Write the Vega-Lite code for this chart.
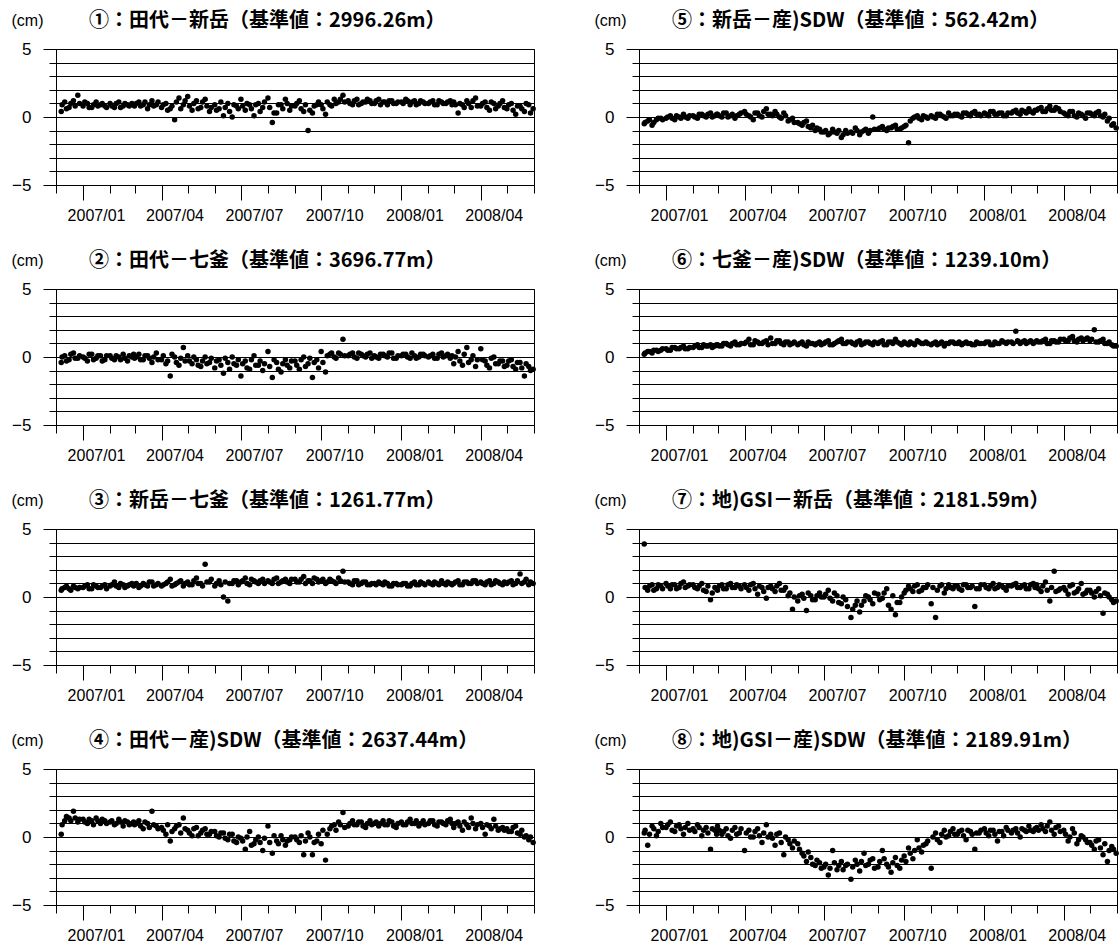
{
"$schema":"https://vega.github.io/schema/vega-lite/v6.json",
"background":"white",
"padding":{"left":10,"top":10,"right":0,"bottom":0},
"columns":2,
"spacing":{"column":105,"row":104},
"bounds":"flush",
"config":{
"font":"Liberation Sans",
"view":{"stroke":"black","strokeWidth":1},
"axis":{"domainColor":"black","tickColor":"black","labelColor":"black","labelFont":"Liberation Sans","labelFontSize":16,"titleColor":"black","domainWidth":1,"tickWidth":1},
"axisX":{"grid":false,"labelOffset":13,"labelPadding":7,"labelOverlap":false,"labelFlush":false,"labelBound":false,"labelAngle":0},
"axisY":{"grid":true,"gridColor":"black","gridOpacity":1,"gridWidth":1,"labelPadding":12,"labelFontSize":17,"titleAngle":0,"titleAlign":"left","titleBaseline":"middle","titleX":-45,"titleY":-29,"titleFontSize":16,"titleFontWeight":"normal","titleFont":"Liberation Sans"},
"title":{"font":"Noto Sans CJK JP","fontSize":20,"fontWeight":"bold","color":"black","anchor":"start","frame":"group","dx":33,"dy":23,"offset":4},
"circle":{"color":"black","size":30,"opacity":1}
},
"datasets":{
"a":[{"t":"2006-12-07","y":0.4},{"t":"2006-12-11","y":1.1},{"t":"2006-12-16","y":0.7},{"t":"2006-12-21","y":1.2},{"t":"2006-12-26","y":1.6},
{"t":"2007-01-01","y":0.8},{"t":"2007-01-06","y":1.0},{"t":"2007-01-11","y":0.7},{"t":"2007-01-16","y":1.1},{"t":"2007-01-21","y":0.9},{"t":"2007-01-26","y":0.8},
{"t":"2007-02-01","y":1.0},{"t":"2007-02-06","y":0.7},{"t":"2007-02-11","y":1.1},{"t":"2007-02-16","y":0.8},{"t":"2007-02-21","y":0.9},{"t":"2007-02-26","y":1.0},
{"t":"2007-03-01","y":0.8},{"t":"2007-03-06","y":1.1},{"t":"2007-03-11","y":0.9},{"t":"2007-03-16","y":0.6},{"t":"2007-03-21","y":1.2},{"t":"2007-03-26","y":0.9},
{"t":"2007-04-01","y":0.7},{"t":"2007-04-06","y":1.0},{"t":"2007-04-11","y":0.6},{"t":"2007-04-16","y":-0.2},{"t":"2007-04-21","y":1.4},{"t":"2007-04-26","y":0.9},
{"t":"2007-05-01","y":1.5},{"t":"2007-05-06","y":0.5},{"t":"2007-05-11","y":1.2},{"t":"2007-05-16","y":0.7},{"t":"2007-05-21","y":1.3},{"t":"2007-05-26","y":0.4},
{"t":"2007-06-01","y":0.9},{"t":"2007-06-06","y":0.6},{"t":"2007-06-11","y":0.1},{"t":"2007-06-16","y":1.0},{"t":"2007-06-21","y":0.0},{"t":"2007-06-26","y":0.8},
{"t":"2007-07-01","y":1.3},{"t":"2007-07-06","y":0.5},{"t":"2007-07-11","y":0.9},{"t":"2007-07-16","y":0.1},{"t":"2007-07-21","y":1.0},{"t":"2007-07-26","y":0.7},
{"t":"2007-08-01","y":1.4},{"t":"2007-08-06","y":-0.4},{"t":"2007-08-11","y":0.3},{"t":"2007-08-16","y":0.9},{"t":"2007-08-21","y":1.3},{"t":"2007-08-26","y":0.5},
{"t":"2007-09-01","y":0.8},{"t":"2007-09-06","y":1.2},{"t":"2007-09-11","y":0.4},{"t":"2007-09-16","y":-1.0},{"t":"2007-09-21","y":0.3},{"t":"2007-09-26","y":0.9},
{"t":"2007-10-01","y":0.9},{"t":"2007-10-06","y":0.2},{"t":"2007-10-11","y":0.9},{"t":"2007-10-16","y":1.3},{"t":"2007-10-21","y":1.1},{"t":"2007-10-26","y":1.6},
{"t":"2007-11-01","y":1.2},{"t":"2007-11-06","y":0.9},{"t":"2007-11-11","y":1.3},{"t":"2007-11-16","y":1.0},{"t":"2007-11-21","y":1.1},{"t":"2007-11-26","y":1.2},
{"t":"2007-12-01","y":1.0},{"t":"2007-12-06","y":1.3},{"t":"2007-12-11","y":1.1},{"t":"2007-12-16","y":0.9},{"t":"2007-12-21","y":1.2},{"t":"2007-12-26","y":1.0},
{"t":"2008-01-01","y":1.1},{"t":"2008-01-06","y":1.3},{"t":"2008-01-11","y":0.9},{"t":"2008-01-16","y":1.2},{"t":"2008-01-21","y":1.0},{"t":"2008-01-26","y":1.1},
{"t":"2008-02-01","y":1.0},{"t":"2008-02-06","y":1.2},{"t":"2008-02-11","y":0.9},{"t":"2008-02-16","y":1.1},{"t":"2008-02-21","y":1.0},{"t":"2008-02-26","y":1.2},
{"t":"2008-03-01","y":1.1},{"t":"2008-03-06","y":0.3},{"t":"2008-03-11","y":0.9},{"t":"2008-03-16","y":1.2},{"t":"2008-03-21","y":0.7},{"t":"2008-03-26","y":1.4},
{"t":"2008-04-01","y":0.8},{"t":"2008-04-06","y":1.1},{"t":"2008-04-11","y":0.5},{"t":"2008-04-16","y":1.0},{"t":"2008-04-21","y":0.8},{"t":"2008-04-26","y":1.2},
{"t":"2008-05-01","y":0.6},{"t":"2008-05-06","y":1.0},{"t":"2008-05-11","y":0.2},{"t":"2008-05-16","y":0.8},{"t":"2008-05-21","y":0.4},{"t":"2008-05-26","y":0.9},{"t":"2008-05-31","y":0.6},
{"t":"2006-12-08","y":0.9},{"t":"2006-12-13","y":0.6},{"t":"2006-12-18","y":1.0},{"t":"2006-12-23","y":0.8},{"t":"2006-12-28","y":1.0},
{"t":"2007-01-03","y":1.1},{"t":"2007-01-08","y":0.7},{"t":"2007-01-13","y":0.9},{"t":"2007-01-18","y":0.8},{"t":"2007-01-23","y":1.0},{"t":"2007-01-28","y":0.7},
{"t":"2007-02-03","y":0.8},{"t":"2007-02-08","y":1.0},{"t":"2007-02-13","y":0.7},{"t":"2007-02-18","y":1.0},{"t":"2007-02-23","y":0.8},{"t":"2007-02-28","y":0.9},
{"t":"2007-03-03","y":1.0},{"t":"2007-03-08","y":0.8},{"t":"2007-03-13","y":1.1},{"t":"2007-03-18","y":0.9},{"t":"2007-03-23","y":0.8},{"t":"2007-03-28","y":1.1},
{"t":"2007-04-03","y":0.9},{"t":"2007-04-08","y":0.5},{"t":"2007-04-13","y":0.8},{"t":"2007-04-18","y":1.1},{"t":"2007-04-23","y":0.6},{"t":"2007-04-28","y":1.2},
{"t":"2007-05-03","y":0.8},{"t":"2007-05-08","y":1.0},{"t":"2007-05-13","y":0.6},{"t":"2007-05-18","y":1.1},{"t":"2007-05-23","y":0.8},{"t":"2007-05-28","y":0.7},
{"t":"2007-06-03","y":0.5},{"t":"2007-06-08","y":1.1},{"t":"2007-06-13","y":0.7},{"t":"2007-06-18","y":0.4},{"t":"2007-06-23","y":0.9},{"t":"2007-06-28","y":0.6},
{"t":"2007-07-03","y":0.8},{"t":"2007-07-08","y":1.0},{"t":"2007-07-13","y":0.6},{"t":"2007-07-18","y":0.9},{"t":"2007-07-23","y":0.4},{"t":"2007-07-28","y":1.1},
{"t":"2007-08-03","y":0.7},{"t":"2007-08-08","y":0.3},{"t":"2007-08-13","y":0.9},{"t":"2007-08-18","y":0.6},{"t":"2007-08-23","y":1.0},{"t":"2007-08-28","y":0.8},
{"t":"2007-09-03","y":1.0},{"t":"2007-09-08","y":0.6},{"t":"2007-09-13","y":0.9},{"t":"2007-09-18","y":0.5},{"t":"2007-09-23","y":0.8},{"t":"2007-09-28","y":1.1},
{"t":"2007-10-03","y":0.6},{"t":"2007-10-08","y":1.1},{"t":"2007-10-13","y":0.8},{"t":"2007-10-18","y":1.0},{"t":"2007-10-23","y":1.3},{"t":"2007-10-28","y":1.1},
{"t":"2007-11-03","y":1.0},{"t":"2007-11-08","y":1.2},{"t":"2007-11-13","y":0.9},{"t":"2007-11-18","y":1.1},{"t":"2007-11-23","y":1.3},{"t":"2007-11-28","y":1.0},
{"t":"2007-12-03","y":1.2},{"t":"2007-12-08","y":0.9},{"t":"2007-12-13","y":1.1},{"t":"2007-12-18","y":1.2},{"t":"2007-12-23","y":1.0},{"t":"2007-12-28","y":1.1},
{"t":"2008-01-03","y":1.0},{"t":"2008-01-08","y":1.2},{"t":"2008-01-13","y":1.1},{"t":"2008-01-18","y":0.9},{"t":"2008-01-23","y":1.2},{"t":"2008-01-28","y":1.0},
{"t":"2008-02-03","y":1.1},{"t":"2008-02-08","y":0.9},{"t":"2008-02-13","y":1.2},{"t":"2008-02-18","y":1.0},{"t":"2008-02-23","y":1.1},{"t":"2008-02-28","y":0.9},
{"t":"2008-03-03","y":0.9},{"t":"2008-03-08","y":1.0},{"t":"2008-03-13","y":0.7},{"t":"2008-03-18","y":1.0},{"t":"2008-03-23","y":1.2},{"t":"2008-03-28","y":0.8},
{"t":"2008-04-03","y":1.0},{"t":"2008-04-08","y":0.7},{"t":"2008-04-13","y":1.1},{"t":"2008-04-18","y":0.6},{"t":"2008-04-23","y":1.0},{"t":"2008-04-28","y":0.7},
{"t":"2008-05-03","y":0.9},{"t":"2008-05-08","y":0.5},{"t":"2008-05-13","y":0.8},{"t":"2008-05-18","y":0.6},{"t":"2008-05-23","y":1.0},{"t":"2008-05-28","y":0.3}],
"b":[{"t":"2006-12-07","y":-0.4},{"t":"2006-12-11","y":0.1},{"t":"2006-12-16","y":-0.2},{"t":"2006-12-21","y":0.3},{"t":"2006-12-26","y":-0.1},
{"t":"2007-01-01","y":0.0},{"t":"2007-01-06","y":-0.3},{"t":"2007-01-11","y":0.2},{"t":"2007-01-16","y":-0.1},{"t":"2007-01-21","y":0.1},{"t":"2007-01-26","y":-0.2},
{"t":"2007-02-01","y":0.1},{"t":"2007-02-06","y":-0.2},{"t":"2007-02-11","y":0.0},{"t":"2007-02-16","y":0.2},{"t":"2007-02-21","y":-0.3},{"t":"2007-02-26","y":0.0},
{"t":"2007-03-01","y":-0.1},{"t":"2007-03-06","y":0.2},{"t":"2007-03-11","y":-0.2},{"t":"2007-03-16","y":0.1},{"t":"2007-03-21","y":-0.4},{"t":"2007-03-26","y":0.3},
{"t":"2007-04-01","y":-0.2},{"t":"2007-04-06","y":-0.5},{"t":"2007-04-11","y":-1.4},{"t":"2007-04-16","y":0.0},{"t":"2007-04-21","y":-0.6},{"t":"2007-04-26","y":0.7},
{"t":"2007-05-01","y":0.1},{"t":"2007-05-06","y":-0.5},{"t":"2007-05-11","y":-0.2},{"t":"2007-05-16","y":-0.7},{"t":"2007-05-21","y":0.0},{"t":"2007-05-26","y":-0.4},
{"t":"2007-06-01","y":-0.8},{"t":"2007-06-06","y":-0.2},{"t":"2007-06-11","y":-1.2},{"t":"2007-06-16","y":-0.4},{"t":"2007-06-21","y":0.0},{"t":"2007-06-26","y":-0.6},
{"t":"2007-07-01","y":-1.4},{"t":"2007-07-06","y":-0.3},{"t":"2007-07-11","y":-0.9},{"t":"2007-07-16","y":0.1},{"t":"2007-07-21","y":-0.6},{"t":"2007-07-26","y":-1.0},
{"t":"2007-08-01","y":0.4},{"t":"2007-08-06","y":-1.5},{"t":"2007-08-11","y":-0.4},{"t":"2007-08-16","y":-1.1},{"t":"2007-08-21","y":-0.2},{"t":"2007-08-26","y":-0.8},
{"t":"2007-09-01","y":-0.3},{"t":"2007-09-06","y":-0.9},{"t":"2007-09-11","y":0.0},{"t":"2007-09-16","y":-0.5},{"t":"2007-09-21","y":-1.5},{"t":"2007-09-26","y":-0.2},
{"t":"2007-10-01","y":0.4},{"t":"2007-10-06","y":-1.1},{"t":"2007-10-11","y":0.2},{"t":"2007-10-16","y":0.0},{"t":"2007-10-21","y":0.3},{"t":"2007-10-26","y":1.3},
{"t":"2007-11-01","y":0.1},{"t":"2007-11-06","y":0.3},{"t":"2007-11-11","y":-0.1},{"t":"2007-11-16","y":0.2},{"t":"2007-11-21","y":0.0},{"t":"2007-11-26","y":0.3},
{"t":"2007-12-01","y":0.1},{"t":"2007-12-06","y":-0.1},{"t":"2007-12-11","y":0.2},{"t":"2007-12-16","y":0.0},{"t":"2007-12-21","y":0.3},{"t":"2007-12-26","y":-0.1},
{"t":"2008-01-01","y":0.1},{"t":"2008-01-06","y":0.2},{"t":"2008-01-11","y":-0.1},{"t":"2008-01-16","y":0.1},{"t":"2008-01-21","y":0.0},{"t":"2008-01-26","y":0.2},
{"t":"2008-02-01","y":0.0},{"t":"2008-02-06","y":0.2},{"t":"2008-02-11","y":-0.1},{"t":"2008-02-16","y":0.3},{"t":"2008-02-21","y":0.1},{"t":"2008-02-26","y":-0.1},
{"t":"2008-03-01","y":-0.5},{"t":"2008-03-06","y":0.4},{"t":"2008-03-11","y":-0.6},{"t":"2008-03-16","y":0.7},{"t":"2008-03-21","y":-0.2},{"t":"2008-03-26","y":-0.7},
{"t":"2008-04-01","y":0.6},{"t":"2008-04-06","y":-0.3},{"t":"2008-04-11","y":-0.8},{"t":"2008-04-16","y":0.0},{"t":"2008-04-21","y":-0.5},{"t":"2008-04-26","y":-0.3},
{"t":"2008-05-01","y":-0.6},{"t":"2008-05-06","y":-0.2},{"t":"2008-05-11","y":-0.9},{"t":"2008-05-16","y":-0.4},{"t":"2008-05-21","y":-1.4},{"t":"2008-05-26","y":-0.7},{"t":"2008-05-31","y":-0.9},
{"t":"2006-12-08","y":0.0},{"t":"2006-12-13","y":-0.3},{"t":"2006-12-18","y":0.2},{"t":"2006-12-23","y":-0.1},{"t":"2006-12-28","y":0.1},
{"t":"2007-01-03","y":-0.1},{"t":"2007-01-08","y":0.2},{"t":"2007-01-13","y":-0.2},{"t":"2007-01-18","y":0.1},{"t":"2007-01-23","y":-0.3},{"t":"2007-01-28","y":0.1},
{"t":"2007-02-03","y":-0.1},{"t":"2007-02-08","y":0.1},{"t":"2007-02-13","y":-0.2},{"t":"2007-02-18","y":-0.1},{"t":"2007-02-23","y":0.1},{"t":"2007-02-28","y":0.2},
{"t":"2007-03-03","y":0.0},{"t":"2007-03-08","y":-0.2},{"t":"2007-03-13","y":0.1},{"t":"2007-03-18","y":-0.1},{"t":"2007-03-23","y":0.0},{"t":"2007-03-28","y":-0.2},
{"t":"2007-04-03","y":0.1},{"t":"2007-04-08","y":-0.3},{"t":"2007-04-13","y":0.2},{"t":"2007-04-18","y":-0.4},{"t":"2007-04-23","y":-0.1},{"t":"2007-04-28","y":-0.3},
{"t":"2007-05-03","y":-0.3},{"t":"2007-05-08","y":0.0},{"t":"2007-05-13","y":-0.6},{"t":"2007-05-18","y":-0.3},{"t":"2007-05-23","y":-0.5},{"t":"2007-05-28","y":-0.1},
{"t":"2007-06-03","y":-0.3},{"t":"2007-06-08","y":-0.6},{"t":"2007-06-13","y":-0.1},{"t":"2007-06-18","y":-0.9},{"t":"2007-06-23","y":-0.5},{"t":"2007-06-28","y":-0.2},
{"t":"2007-07-03","y":-0.5},{"t":"2007-07-08","y":-0.8},{"t":"2007-07-13","y":-0.2},{"t":"2007-07-18","y":-0.6},{"t":"2007-07-23","y":-0.3},{"t":"2007-07-28","y":-0.5},
{"t":"2007-08-03","y":-0.7},{"t":"2007-08-08","y":-0.2},{"t":"2007-08-13","y":-0.9},{"t":"2007-08-18","y":-0.5},{"t":"2007-08-23","y":-0.6},{"t":"2007-08-28","y":-0.3},
{"t":"2007-09-03","y":-0.6},{"t":"2007-09-08","y":-0.2},{"t":"2007-09-13","y":-0.7},{"t":"2007-09-18","y":-0.1},{"t":"2007-09-23","y":-0.4},{"t":"2007-09-28","y":-0.8},
{"t":"2007-10-03","y":-0.4},{"t":"2007-10-08","y":0.1},{"t":"2007-10-13","y":0.3},{"t":"2007-10-18","y":-0.1},{"t":"2007-10-23","y":0.2},{"t":"2007-10-28","y":0.1},
{"t":"2007-11-03","y":0.2},{"t":"2007-11-08","y":0.0},{"t":"2007-11-13","y":0.3},{"t":"2007-11-18","y":0.1},{"t":"2007-11-23","y":0.2},{"t":"2007-11-28","y":-0.1},
{"t":"2007-12-03","y":0.0},{"t":"2007-12-08","y":0.2},{"t":"2007-12-13","y":0.1},{"t":"2007-12-18","y":0.3},{"t":"2007-12-23","y":-0.1},{"t":"2007-12-28","y":0.1},
{"t":"2008-01-03","y":0.2},{"t":"2008-01-08","y":0.0},{"t":"2008-01-13","y":0.3},{"t":"2008-01-18","y":-0.1},{"t":"2008-01-23","y":0.2},{"t":"2008-01-28","y":0.1},
{"t":"2008-02-03","y":0.1},{"t":"2008-02-08","y":-0.1},{"t":"2008-02-13","y":0.2},{"t":"2008-02-18","y":0.0},{"t":"2008-02-23","y":0.2},{"t":"2008-02-28","y":0.1},
{"t":"2008-03-03","y":0.0},{"t":"2008-03-08","y":-0.3},{"t":"2008-03-13","y":0.2},{"t":"2008-03-18","y":-0.4},{"t":"2008-03-23","y":0.1},{"t":"2008-03-28","y":-0.2},
{"t":"2008-04-03","y":-0.2},{"t":"2008-04-08","y":-0.6},{"t":"2008-04-13","y":-0.1},{"t":"2008-04-18","y":-0.5},{"t":"2008-04-23","y":-0.3},{"t":"2008-04-28","y":-0.7},
{"t":"2008-05-03","y":-0.3},{"t":"2008-05-08","y":-0.7},{"t":"2008-05-13","y":-0.4},{"t":"2008-05-18","y":-0.8},{"t":"2008-05-23","y":-0.5},{"t":"2008-05-28","y":-1.0}],
"c":[{"t":"2006-12-07","y":0.5},{"t":"2006-12-11","y":0.7},{"t":"2006-12-16","y":0.6},{"t":"2006-12-21","y":0.8},{"t":"2006-12-26","y":0.6},
{"t":"2007-01-01","y":0.7},{"t":"2007-01-06","y":0.9},{"t":"2007-01-11","y":0.6},{"t":"2007-01-16","y":0.8},{"t":"2007-01-21","y":0.7},{"t":"2007-01-26","y":0.9},
{"t":"2007-02-01","y":0.8},{"t":"2007-02-06","y":1.1},{"t":"2007-02-11","y":0.7},{"t":"2007-02-16","y":0.9},{"t":"2007-02-21","y":0.8},{"t":"2007-02-26","y":1.0},
{"t":"2007-03-01","y":0.9},{"t":"2007-03-06","y":0.7},{"t":"2007-03-11","y":1.0},{"t":"2007-03-16","y":0.8},{"t":"2007-03-21","y":1.1},{"t":"2007-03-26","y":0.9},
{"t":"2007-04-01","y":0.8},{"t":"2007-04-06","y":1.0},{"t":"2007-04-11","y":1.3},{"t":"2007-04-16","y":0.9},{"t":"2007-04-21","y":1.1},{"t":"2007-04-26","y":0.8},
{"t":"2007-05-01","y":1.1},{"t":"2007-05-06","y":0.9},{"t":"2007-05-11","y":1.4},{"t":"2007-05-16","y":1.0},{"t":"2007-05-21","y":2.4},{"t":"2007-05-26","y":1.1},
{"t":"2007-06-01","y":0.8},{"t":"2007-06-06","y":1.2},{"t":"2007-06-11","y":0.0},{"t":"2007-06-16","y":-0.3},{"t":"2007-06-21","y":1.0},{"t":"2007-06-26","y":1.2},
{"t":"2007-07-01","y":1.1},{"t":"2007-07-06","y":1.4},{"t":"2007-07-11","y":0.9},{"t":"2007-07-16","y":1.2},{"t":"2007-07-21","y":1.0},{"t":"2007-07-26","y":1.3},
{"t":"2007-08-01","y":1.2},{"t":"2007-08-06","y":1.0},{"t":"2007-08-11","y":1.4},{"t":"2007-08-16","y":1.1},{"t":"2007-08-21","y":1.3},{"t":"2007-08-26","y":1.0},
{"t":"2007-09-01","y":1.3},{"t":"2007-09-06","y":1.1},{"t":"2007-09-11","y":1.5},{"t":"2007-09-16","y":1.2},{"t":"2007-09-21","y":1.0},{"t":"2007-09-26","y":1.3},
{"t":"2007-10-01","y":1.2},{"t":"2007-10-06","y":1.0},{"t":"2007-10-11","y":1.3},{"t":"2007-10-16","y":1.1},{"t":"2007-10-21","y":1.4},{"t":"2007-10-26","y":1.9},
{"t":"2007-11-01","y":1.1},{"t":"2007-11-06","y":0.9},{"t":"2007-11-11","y":1.2},{"t":"2007-11-16","y":1.0},{"t":"2007-11-21","y":1.1},{"t":"2007-11-26","y":0.9},
{"t":"2007-12-01","y":1.0},{"t":"2007-12-06","y":1.1},{"t":"2007-12-11","y":0.9},{"t":"2007-12-16","y":1.0},{"t":"2007-12-21","y":0.8},{"t":"2007-12-26","y":1.0},
{"t":"2008-01-01","y":0.9},{"t":"2008-01-06","y":1.0},{"t":"2008-01-11","y":0.8},{"t":"2008-01-16","y":1.1},{"t":"2008-01-21","y":0.9},{"t":"2008-01-26","y":1.0},
{"t":"2008-02-01","y":1.1},{"t":"2008-02-06","y":0.9},{"t":"2008-02-11","y":1.0},{"t":"2008-02-16","y":1.2},{"t":"2008-02-21","y":0.9},{"t":"2008-02-26","y":1.0},
{"t":"2008-03-01","y":1.0},{"t":"2008-03-06","y":1.2},{"t":"2008-03-11","y":0.9},{"t":"2008-03-16","y":1.1},{"t":"2008-03-21","y":1.0},{"t":"2008-03-26","y":1.2},
{"t":"2008-04-01","y":1.1},{"t":"2008-04-06","y":0.9},{"t":"2008-04-11","y":1.2},{"t":"2008-04-16","y":1.0},{"t":"2008-04-21","y":1.1},{"t":"2008-04-26","y":0.9},
{"t":"2008-05-01","y":1.0},{"t":"2008-05-06","y":1.2},{"t":"2008-05-11","y":1.0},{"t":"2008-05-16","y":1.7},{"t":"2008-05-21","y":1.1},{"t":"2008-05-26","y":0.9},{"t":"2008-05-31","y":1.0},
{"t":"2006-12-08","y":0.6},{"t":"2006-12-13","y":0.8},{"t":"2006-12-18","y":0.5},{"t":"2006-12-23","y":0.7},{"t":"2006-12-28","y":0.7},
{"t":"2007-01-03","y":0.8},{"t":"2007-01-08","y":0.6},{"t":"2007-01-13","y":0.9},{"t":"2007-01-18","y":0.7},{"t":"2007-01-23","y":0.8},{"t":"2007-01-28","y":0.6},
{"t":"2007-02-03","y":0.9},{"t":"2007-02-08","y":0.8},{"t":"2007-02-13","y":1.0},{"t":"2007-02-18","y":0.7},{"t":"2007-02-23","y":0.9},{"t":"2007-02-28","y":0.8},
{"t":"2007-03-03","y":1.0},{"t":"2007-03-08","y":0.8},{"t":"2007-03-13","y":0.9},{"t":"2007-03-18","y":1.1},{"t":"2007-03-23","y":0.8},{"t":"2007-03-28","y":1.0},
{"t":"2007-04-03","y":0.9},{"t":"2007-04-08","y":1.1},{"t":"2007-04-13","y":0.8},{"t":"2007-04-18","y":1.0},{"t":"2007-04-23","y":1.2},{"t":"2007-04-28","y":1.0},
{"t":"2007-05-03","y":0.9},{"t":"2007-05-08","y":1.2},{"t":"2007-05-13","y":1.0},{"t":"2007-05-18","y":0.8},{"t":"2007-05-23","y":1.1},{"t":"2007-05-28","y":1.3},
{"t":"2007-06-03","y":1.0},{"t":"2007-06-08","y":0.9},{"t":"2007-06-13","y":1.1},{"t":"2007-06-18","y":1.0},{"t":"2007-06-23","y":1.2},{"t":"2007-06-28","y":0.9},
{"t":"2007-07-03","y":1.2},{"t":"2007-07-08","y":1.0},{"t":"2007-07-13","y":1.3},{"t":"2007-07-18","y":1.1},{"t":"2007-07-23","y":1.2},{"t":"2007-07-28","y":1.0},
{"t":"2007-08-03","y":1.1},{"t":"2007-08-08","y":1.3},{"t":"2007-08-13","y":1.0},{"t":"2007-08-18","y":1.2},{"t":"2007-08-23","y":1.1},{"t":"2007-08-28","y":1.3},
{"t":"2007-09-03","y":1.1},{"t":"2007-09-08","y":1.3},{"t":"2007-09-13","y":1.0},{"t":"2007-09-18","y":1.2},{"t":"2007-09-23","y":1.4},{"t":"2007-09-28","y":1.1},
{"t":"2007-10-03","y":1.3},{"t":"2007-10-08","y":1.1},{"t":"2007-10-13","y":1.2},{"t":"2007-10-18","y":1.0},{"t":"2007-10-23","y":1.2},{"t":"2007-10-28","y":1.1},
{"t":"2007-11-03","y":1.0},{"t":"2007-11-08","y":1.2},{"t":"2007-11-13","y":0.9},{"t":"2007-11-18","y":1.1},{"t":"2007-11-23","y":0.9},{"t":"2007-11-28","y":1.0},
{"t":"2007-12-03","y":0.9},{"t":"2007-12-08","y":1.0},{"t":"2007-12-13","y":1.1},{"t":"2007-12-18","y":0.8},{"t":"2007-12-23","y":1.0},{"t":"2007-12-28","y":0.9},
{"t":"2008-01-03","y":1.0},{"t":"2008-01-08","y":0.8},{"t":"2008-01-13","y":1.0},{"t":"2008-01-18","y":0.9},{"t":"2008-01-23","y":1.1},{"t":"2008-01-28","y":0.9},
{"t":"2008-02-03","y":1.0},{"t":"2008-02-08","y":1.1},{"t":"2008-02-13","y":0.9},{"t":"2008-02-18","y":1.0},{"t":"2008-02-23","y":1.1},{"t":"2008-02-28","y":0.9},
{"t":"2008-03-03","y":1.1},{"t":"2008-03-08","y":0.9},{"t":"2008-03-13","y":1.1},{"t":"2008-03-18","y":1.0},{"t":"2008-03-23","y":1.2},{"t":"2008-03-28","y":1.0},
{"t":"2008-04-03","y":1.0},{"t":"2008-04-08","y":1.1},{"t":"2008-04-13","y":0.9},{"t":"2008-04-18","y":1.2},{"t":"2008-04-23","y":1.0},{"t":"2008-04-28","y":1.1},
{"t":"2008-05-03","y":1.1},{"t":"2008-05-08","y":0.9},{"t":"2008-05-13","y":1.2},{"t":"2008-05-18","y":1.0},{"t":"2008-05-23","y":1.3},{"t":"2008-05-28","y":1.1}],
"d":[{"t":"2006-12-07","y":0.2},{"t":"2006-12-11","y":1.2},{"t":"2006-12-16","y":1.4},{"t":"2006-12-21","y":1.9},{"t":"2006-12-26","y":1.1},
{"t":"2007-01-01","y":1.3},{"t":"2007-01-06","y":1.0},{"t":"2007-01-11","y":1.2},{"t":"2007-01-16","y":1.4},{"t":"2007-01-21","y":1.0},{"t":"2007-01-26","y":1.2},
{"t":"2007-02-01","y":1.1},{"t":"2007-02-06","y":0.9},{"t":"2007-02-11","y":1.3},{"t":"2007-02-16","y":0.8},{"t":"2007-02-21","y":1.1},{"t":"2007-02-26","y":1.0},
{"t":"2007-03-01","y":0.9},{"t":"2007-03-06","y":1.2},{"t":"2007-03-11","y":0.6},{"t":"2007-03-16","y":1.0},{"t":"2007-03-21","y":1.9},{"t":"2007-03-26","y":0.8},
{"t":"2007-04-01","y":0.7},{"t":"2007-04-06","y":0.2},{"t":"2007-04-11","y":-0.3},{"t":"2007-04-16","y":0.6},{"t":"2007-04-21","y":0.9},{"t":"2007-04-26","y":1.4},
{"t":"2007-05-01","y":0.5},{"t":"2007-05-06","y":0.1},{"t":"2007-05-11","y":0.7},{"t":"2007-05-16","y":0.3},{"t":"2007-05-21","y":0.6},{"t":"2007-05-26","y":0.2},
{"t":"2007-06-01","y":0.4},{"t":"2007-06-06","y":0.0},{"t":"2007-06-11","y":0.3},{"t":"2007-06-16","y":-0.2},{"t":"2007-06-21","y":0.2},{"t":"2007-06-26","y":-0.4},
{"t":"2007-07-01","y":-0.1},{"t":"2007-07-06","y":-0.9},{"t":"2007-07-11","y":0.4},{"t":"2007-07-16","y":-0.5},{"t":"2007-07-21","y":0.0},{"t":"2007-07-26","y":-1.0},
{"t":"2007-08-01","y":0.8},{"t":"2007-08-06","y":-1.2},{"t":"2007-08-11","y":-0.3},{"t":"2007-08-16","y":0.1},{"t":"2007-08-21","y":-0.6},{"t":"2007-08-26","y":-0.2},
{"t":"2007-09-01","y":0.0},{"t":"2007-09-06","y":-0.4},{"t":"2007-09-11","y":-1.3},{"t":"2007-09-16","y":0.3},{"t":"2007-09-21","y":-1.3},{"t":"2007-09-26","y":-0.3},
{"t":"2007-10-01","y":-0.5},{"t":"2007-10-06","y":-1.7},{"t":"2007-10-11","y":0.6},{"t":"2007-10-16","y":0.9},{"t":"2007-10-21","y":1.1},{"t":"2007-10-26","y":1.8},
{"t":"2007-11-01","y":0.8},{"t":"2007-11-06","y":1.2},{"t":"2007-11-11","y":0.9},{"t":"2007-11-16","y":1.1},{"t":"2007-11-21","y":0.7},{"t":"2007-11-26","y":1.2},
{"t":"2007-12-01","y":1.0},{"t":"2007-12-06","y":0.8},{"t":"2007-12-11","y":1.2},{"t":"2007-12-16","y":0.9},{"t":"2007-12-21","y":1.1},{"t":"2007-12-26","y":0.7},
{"t":"2008-01-01","y":1.1},{"t":"2008-01-06","y":0.9},{"t":"2008-01-11","y":1.3},{"t":"2008-01-16","y":1.0},{"t":"2008-01-21","y":0.8},{"t":"2008-01-26","y":1.2},
{"t":"2008-02-01","y":1.0},{"t":"2008-02-06","y":1.2},{"t":"2008-02-11","y":0.8},{"t":"2008-02-16","y":1.1},{"t":"2008-02-21","y":0.9},{"t":"2008-02-26","y":1.3},
{"t":"2008-03-01","y":0.7},{"t":"2008-03-06","y":1.1},{"t":"2008-03-11","y":0.5},{"t":"2008-03-16","y":0.9},{"t":"2008-03-21","y":1.4},{"t":"2008-03-26","y":0.6},
{"t":"2008-04-01","y":1.0},{"t":"2008-04-06","y":0.2},{"t":"2008-04-11","y":0.8},{"t":"2008-04-16","y":1.3},{"t":"2008-04-21","y":0.5},{"t":"2008-04-26","y":0.7},
{"t":"2008-05-01","y":0.6},{"t":"2008-05-06","y":0.4},{"t":"2008-05-11","y":0.8},{"t":"2008-05-16","y":0.2},{"t":"2008-05-21","y":0.0},{"t":"2008-05-26","y":-0.2},{"t":"2008-05-31","y":-0.4},
{"t":"2006-12-08","y":0.9},{"t":"2006-12-13","y":1.5},{"t":"2006-12-18","y":1.2},{"t":"2006-12-23","y":1.4},{"t":"2006-12-28","y":1.3},
{"t":"2007-01-03","y":1.1},{"t":"2007-01-08","y":1.3},{"t":"2007-01-13","y":0.9},{"t":"2007-01-18","y":1.2},{"t":"2007-01-23","y":1.3},{"t":"2007-01-28","y":1.0},
{"t":"2007-02-03","y":1.2},{"t":"2007-02-08","y":1.0},{"t":"2007-02-13","y":1.1},{"t":"2007-02-18","y":1.2},{"t":"2007-02-23","y":0.9},{"t":"2007-02-28","y":1.1},
{"t":"2007-03-03","y":1.0},{"t":"2007-03-08","y":0.8},{"t":"2007-03-13","y":1.1},{"t":"2007-03-18","y":0.7},{"t":"2007-03-23","y":0.9},{"t":"2007-03-28","y":0.6},
{"t":"2007-04-03","y":0.5},{"t":"2007-04-08","y":0.9},{"t":"2007-04-13","y":0.4},{"t":"2007-04-18","y":0.8},{"t":"2007-04-23","y":0.3},{"t":"2007-04-28","y":0.6},
{"t":"2007-05-03","y":0.3},{"t":"2007-05-08","y":0.6},{"t":"2007-05-13","y":0.1},{"t":"2007-05-18","y":0.5},{"t":"2007-05-23","y":0.2},{"t":"2007-05-28","y":0.4},
{"t":"2007-06-03","y":0.1},{"t":"2007-06-08","y":0.3},{"t":"2007-06-13","y":-0.1},{"t":"2007-06-18","y":0.2},{"t":"2007-06-23","y":-0.3},{"t":"2007-06-28","y":0.0},
{"t":"2007-07-03","y":-0.3},{"t":"2007-07-08","y":0.0},{"t":"2007-07-13","y":-0.6},{"t":"2007-07-18","y":-0.2},{"t":"2007-07-23","y":-0.4},{"t":"2007-07-28","y":-0.1},
{"t":"2007-08-03","y":-0.4},{"t":"2007-08-08","y":0.1},{"t":"2007-08-13","y":-0.5},{"t":"2007-08-18","y":-0.2},{"t":"2007-08-23","y":-0.3},{"t":"2007-08-28","y":0.0},
{"t":"2007-09-03","y":-0.2},{"t":"2007-09-08","y":0.1},{"t":"2007-09-13","y":-0.3},{"t":"2007-09-18","y":0.0},{"t":"2007-09-23","y":-0.4},{"t":"2007-09-28","y":0.2},
{"t":"2007-10-03","y":0.5},{"t":"2007-10-08","y":0.2},{"t":"2007-10-13","y":0.8},{"t":"2007-10-18","y":0.5},{"t":"2007-10-23","y":0.9},{"t":"2007-10-28","y":0.7},
{"t":"2007-11-03","y":1.0},{"t":"2007-11-08","y":0.9},{"t":"2007-11-13","y":1.1},{"t":"2007-11-18","y":0.8},{"t":"2007-11-23","y":1.0},{"t":"2007-11-28","y":0.9},
{"t":"2007-12-03","y":1.1},{"t":"2007-12-08","y":1.0},{"t":"2007-12-13","y":0.9},{"t":"2007-12-18","y":1.2},{"t":"2007-12-23","y":0.8},{"t":"2007-12-28","y":1.0},
{"t":"2008-01-03","y":0.9},{"t":"2008-01-08","y":1.1},{"t":"2008-01-13","y":1.0},{"t":"2008-01-18","y":1.2},{"t":"2008-01-23","y":1.0},{"t":"2008-01-28","y":0.9},
{"t":"2008-02-03","y":1.2},{"t":"2008-02-08","y":0.9},{"t":"2008-02-13","y":1.1},{"t":"2008-02-18","y":1.0},{"t":"2008-02-23","y":1.2},{"t":"2008-02-28","y":1.0},
{"t":"2008-03-03","y":1.0},{"t":"2008-03-08","y":0.8},{"t":"2008-03-13","y":1.1},{"t":"2008-03-18","y":0.7},{"t":"2008-03-23","y":1.0},{"t":"2008-03-28","y":0.9},
{"t":"2008-04-03","y":0.7},{"t":"2008-04-08","y":0.9},{"t":"2008-04-13","y":0.6},{"t":"2008-04-18","y":0.8},{"t":"2008-04-23","y":0.6},{"t":"2008-04-28","y":0.5},
{"t":"2008-05-03","y":0.4},{"t":"2008-05-08","y":0.7},{"t":"2008-05-13","y":0.3},{"t":"2008-05-18","y":0.5},{"t":"2008-05-23","y":0.1},{"t":"2008-05-28","y":0.0}],
"e":[{"t":"2006-12-07","y":-0.5},{"t":"2006-12-11","y":-0.3},{"t":"2006-12-16","y":-0.6},{"t":"2006-12-21","y":-0.2},{"t":"2006-12-26","y":-0.1},
{"t":"2007-01-01","y":-0.1},{"t":"2007-01-06","y":0.1},{"t":"2007-01-11","y":-0.2},{"t":"2007-01-16","y":0.0},{"t":"2007-01-21","y":0.2},{"t":"2007-01-26","y":-0.1},
{"t":"2007-02-01","y":0.1},{"t":"2007-02-06","y":-0.1},{"t":"2007-02-11","y":0.2},{"t":"2007-02-16","y":0.0},{"t":"2007-02-21","y":0.3},{"t":"2007-02-26","y":0.1},
{"t":"2007-03-01","y":0.2},{"t":"2007-03-06","y":0.0},{"t":"2007-03-11","y":0.3},{"t":"2007-03-16","y":0.1},{"t":"2007-03-21","y":-0.1},{"t":"2007-03-26","y":0.2},
{"t":"2007-04-01","y":0.4},{"t":"2007-04-06","y":0.1},{"t":"2007-04-11","y":-0.2},{"t":"2007-04-16","y":0.3},{"t":"2007-04-21","y":0.0},{"t":"2007-04-26","y":0.6},
{"t":"2007-05-01","y":0.2},{"t":"2007-05-06","y":0.4},{"t":"2007-05-11","y":0.0},{"t":"2007-05-16","y":0.3},{"t":"2007-05-21","y":-0.3},{"t":"2007-05-26","y":-0.1},
{"t":"2007-06-01","y":-0.4},{"t":"2007-06-06","y":-0.6},{"t":"2007-06-11","y":-0.3},{"t":"2007-06-16","y":-0.8},{"t":"2007-06-21","y":-1.0},{"t":"2007-06-26","y":-0.9},
{"t":"2007-07-01","y":-1.1},{"t":"2007-07-06","y":-1.3},{"t":"2007-07-11","y":-0.9},{"t":"2007-07-16","y":-1.2},{"t":"2007-07-21","y":-1.5},{"t":"2007-07-26","y":-1.0},
{"t":"2007-08-01","y":-1.1},{"t":"2007-08-06","y":-0.8},{"t":"2007-08-11","y":-1.3},{"t":"2007-08-16","y":-1.0},{"t":"2007-08-21","y":-1.2},{"t":"2007-08-26","y":0.0},
{"t":"2007-09-01","y":-0.9},{"t":"2007-09-06","y":-0.7},{"t":"2007-09-11","y":-1.0},{"t":"2007-09-16","y":-0.8},{"t":"2007-09-21","y":-0.6},{"t":"2007-09-26","y":-0.9},
{"t":"2007-10-01","y":-0.7},{"t":"2007-10-06","y":-1.9},{"t":"2007-10-11","y":-0.1},{"t":"2007-10-16","y":0.1},{"t":"2007-10-21","y":-0.2},{"t":"2007-10-26","y":0.0},
{"t":"2007-11-01","y":0.1},{"t":"2007-11-06","y":-0.1},{"t":"2007-11-11","y":0.2},{"t":"2007-11-16","y":0.0},{"t":"2007-11-21","y":0.3},{"t":"2007-11-26","y":0.1},
{"t":"2007-12-01","y":0.2},{"t":"2007-12-06","y":0.0},{"t":"2007-12-11","y":0.3},{"t":"2007-12-16","y":0.1},{"t":"2007-12-21","y":0.4},{"t":"2007-12-26","y":0.2},
{"t":"2008-01-01","y":0.3},{"t":"2008-01-06","y":0.1},{"t":"2008-01-11","y":0.4},{"t":"2008-01-16","y":0.2},{"t":"2008-01-21","y":0.3},{"t":"2008-01-26","y":0.1},
{"t":"2008-02-01","y":0.3},{"t":"2008-02-06","y":0.5},{"t":"2008-02-11","y":0.2},{"t":"2008-02-16","y":0.4},{"t":"2008-02-21","y":0.6},{"t":"2008-02-26","y":0.3},
{"t":"2008-03-01","y":0.5},{"t":"2008-03-06","y":0.7},{"t":"2008-03-11","y":0.4},{"t":"2008-03-16","y":0.8},{"t":"2008-03-21","y":0.5},{"t":"2008-03-26","y":0.6},
{"t":"2008-04-01","y":0.3},{"t":"2008-04-06","y":0.1},{"t":"2008-04-11","y":0.4},{"t":"2008-04-16","y":0.0},{"t":"2008-04-21","y":0.2},{"t":"2008-04-26","y":-0.1},
{"t":"2008-05-01","y":0.3},{"t":"2008-05-06","y":0.1},{"t":"2008-05-11","y":0.4},{"t":"2008-05-16","y":0.0},{"t":"2008-05-21","y":-0.3},{"t":"2008-05-26","y":-0.6},{"t":"2008-05-31","y":-0.8},
{"t":"2006-12-08","y":-0.4},{"t":"2006-12-13","y":-0.2},{"t":"2006-12-18","y":-0.4},{"t":"2006-12-23","y":-0.1},{"t":"2006-12-28","y":-0.2},
{"t":"2007-01-03","y":0.0},{"t":"2007-01-08","y":-0.1},{"t":"2007-01-13","y":0.1},{"t":"2007-01-18","y":-0.1},{"t":"2007-01-23","y":0.0},{"t":"2007-01-28","y":0.1},
{"t":"2007-02-03","y":0.0},{"t":"2007-02-08","y":0.2},{"t":"2007-02-13","y":0.1},{"t":"2007-02-18","y":0.2},{"t":"2007-02-23","y":0.0},{"t":"2007-02-28","y":0.2},
{"t":"2007-03-03","y":0.1},{"t":"2007-03-08","y":0.3},{"t":"2007-03-13","y":0.0},{"t":"2007-03-18","y":0.2},{"t":"2007-03-23","y":0.1},{"t":"2007-03-28","y":0.3},
{"t":"2007-04-03","y":0.2},{"t":"2007-04-08","y":0.0},{"t":"2007-04-13","y":0.3},{"t":"2007-04-18","y":0.1},{"t":"2007-04-23","y":0.4},{"t":"2007-04-28","y":0.2},
{"t":"2007-05-03","y":0.1},{"t":"2007-05-08","y":0.2},{"t":"2007-05-13","y":-0.1},{"t":"2007-05-18","y":0.1},{"t":"2007-05-23","y":-0.2},{"t":"2007-05-28","y":-0.4},
{"t":"2007-06-03","y":-0.5},{"t":"2007-06-08","y":-0.4},{"t":"2007-06-13","y":-0.7},{"t":"2007-06-18","y":-0.6},{"t":"2007-06-23","y":-0.8},{"t":"2007-06-28","y":-1.1},
{"t":"2007-07-03","y":-1.0},{"t":"2007-07-08","y":-1.2},{"t":"2007-07-13","y":-1.1},{"t":"2007-07-18","y":-1.0},{"t":"2007-07-23","y":-1.3},{"t":"2007-07-28","y":-1.2},
{"t":"2007-08-03","y":-1.2},{"t":"2007-08-08","y":-1.0},{"t":"2007-08-13","y":-1.1},{"t":"2007-08-18","y":-0.9},{"t":"2007-08-23","y":-1.0},{"t":"2007-08-28","y":-0.9},
{"t":"2007-09-03","y":-0.8},{"t":"2007-09-08","y":-0.9},{"t":"2007-09-13","y":-0.8},{"t":"2007-09-18","y":-0.7},{"t":"2007-09-23","y":-0.9},{"t":"2007-09-28","y":-0.8},
{"t":"2007-10-03","y":-0.6},{"t":"2007-10-08","y":-0.3},{"t":"2007-10-13","y":0.0},{"t":"2007-10-18","y":-0.1},{"t":"2007-10-23","y":0.1},{"t":"2007-10-28","y":-0.1},
{"t":"2007-11-03","y":0.0},{"t":"2007-11-08","y":0.2},{"t":"2007-11-13","y":0.1},{"t":"2007-11-18","y":-0.1},{"t":"2007-11-23","y":0.1},{"t":"2007-11-28","y":0.2},
{"t":"2007-12-03","y":0.1},{"t":"2007-12-08","y":0.3},{"t":"2007-12-13","y":0.2},{"t":"2007-12-18","y":0.3},{"t":"2007-12-23","y":0.2},{"t":"2007-12-28","y":0.1},
{"t":"2008-01-03","y":0.2},{"t":"2008-01-08","y":0.4},{"t":"2008-01-13","y":0.2},{"t":"2008-01-18","y":0.3},{"t":"2008-01-23","y":0.1},{"t":"2008-01-28","y":0.3},
{"t":"2008-02-03","y":0.4},{"t":"2008-02-08","y":0.3},{"t":"2008-02-13","y":0.5},{"t":"2008-02-18","y":0.3},{"t":"2008-02-23","y":0.4},{"t":"2008-02-28","y":0.5},
{"t":"2008-03-03","y":0.6},{"t":"2008-03-08","y":0.4},{"t":"2008-03-13","y":0.6},{"t":"2008-03-18","y":0.5},{"t":"2008-03-23","y":0.7},{"t":"2008-03-28","y":0.4},
{"t":"2008-04-03","y":0.2},{"t":"2008-04-08","y":0.4},{"t":"2008-04-13","y":0.1},{"t":"2008-04-18","y":0.3},{"t":"2008-04-23","y":0.1},{"t":"2008-04-28","y":0.3},
{"t":"2008-05-03","y":0.2},{"t":"2008-05-08","y":0.3},{"t":"2008-05-13","y":0.1},{"t":"2008-05-18","y":0.2},{"t":"2008-05-23","y":-0.1},{"t":"2008-05-28","y":-0.5}],
"f":[{"t":"2006-12-07","y":0.2},{"t":"2006-12-11","y":0.4},{"t":"2006-12-16","y":0.3},{"t":"2006-12-21","y":0.5},{"t":"2006-12-26","y":0.5},
{"t":"2007-01-01","y":0.6},{"t":"2007-01-06","y":0.5},{"t":"2007-01-11","y":0.7},{"t":"2007-01-16","y":0.6},{"t":"2007-01-21","y":0.8},{"t":"2007-01-26","y":0.6},
{"t":"2007-02-01","y":0.7},{"t":"2007-02-06","y":0.9},{"t":"2007-02-11","y":0.7},{"t":"2007-02-16","y":0.8},{"t":"2007-02-21","y":0.9},{"t":"2007-02-26","y":0.8},
{"t":"2007-03-01","y":0.9},{"t":"2007-03-06","y":0.8},{"t":"2007-03-11","y":1.0},{"t":"2007-03-16","y":0.8},{"t":"2007-03-21","y":1.1},{"t":"2007-03-26","y":0.9},
{"t":"2007-04-01","y":1.0},{"t":"2007-04-06","y":1.3},{"t":"2007-04-11","y":0.9},{"t":"2007-04-16","y":1.1},{"t":"2007-04-21","y":1.0},{"t":"2007-04-26","y":1.2},
{"t":"2007-05-01","y":1.4},{"t":"2007-05-06","y":1.0},{"t":"2007-05-11","y":1.2},{"t":"2007-05-16","y":0.9},{"t":"2007-05-21","y":1.1},{"t":"2007-05-26","y":1.0},
{"t":"2007-06-01","y":0.9},{"t":"2007-06-06","y":1.1},{"t":"2007-06-11","y":0.8},{"t":"2007-06-16","y":1.0},{"t":"2007-06-21","y":0.9},{"t":"2007-06-26","y":1.1},
{"t":"2007-07-01","y":1.0},{"t":"2007-07-06","y":1.2},{"t":"2007-07-11","y":0.9},{"t":"2007-07-16","y":1.1},{"t":"2007-07-21","y":1.3},{"t":"2007-07-26","y":1.0},
{"t":"2007-08-01","y":1.1},{"t":"2007-08-06","y":0.9},{"t":"2007-08-11","y":1.2},{"t":"2007-08-16","y":1.0},{"t":"2007-08-21","y":1.1},{"t":"2007-08-26","y":0.9},
{"t":"2007-09-01","y":1.0},{"t":"2007-09-06","y":1.2},{"t":"2007-09-11","y":0.9},{"t":"2007-09-16","y":1.1},{"t":"2007-09-21","y":1.3},{"t":"2007-09-26","y":1.0},
{"t":"2007-10-01","y":1.1},{"t":"2007-10-06","y":0.9},{"t":"2007-10-11","y":1.0},{"t":"2007-10-16","y":1.2},{"t":"2007-10-21","y":1.0},{"t":"2007-10-26","y":1.1},
{"t":"2007-11-01","y":0.9},{"t":"2007-11-06","y":1.1},{"t":"2007-11-11","y":1.0},{"t":"2007-11-16","y":0.8},{"t":"2007-11-21","y":1.0},{"t":"2007-11-26","y":1.1},
{"t":"2007-12-01","y":1.0},{"t":"2007-12-06","y":0.9},{"t":"2007-12-11","y":1.1},{"t":"2007-12-16","y":1.0},{"t":"2007-12-21","y":0.9},{"t":"2007-12-26","y":1.0},
{"t":"2008-01-01","y":1.0},{"t":"2008-01-06","y":1.1},{"t":"2008-01-11","y":0.9},{"t":"2008-01-16","y":1.0},{"t":"2008-01-21","y":1.2},{"t":"2008-01-26","y":1.0},
{"t":"2008-02-01","y":1.1},{"t":"2008-02-06","y":1.9},{"t":"2008-02-11","y":1.0},{"t":"2008-02-16","y":1.2},{"t":"2008-02-21","y":1.1},{"t":"2008-02-26","y":1.0},
{"t":"2008-03-01","y":1.2},{"t":"2008-03-06","y":1.1},{"t":"2008-03-11","y":1.3},{"t":"2008-03-16","y":1.0},{"t":"2008-03-21","y":1.2},{"t":"2008-03-26","y":1.1},
{"t":"2008-04-01","y":1.3},{"t":"2008-04-06","y":1.2},{"t":"2008-04-11","y":1.5},{"t":"2008-04-16","y":1.1},{"t":"2008-04-21","y":1.4},{"t":"2008-04-26","y":1.3},
{"t":"2008-05-01","y":1.2},{"t":"2008-05-06","y":2.0},{"t":"2008-05-11","y":1.1},{"t":"2008-05-16","y":1.3},{"t":"2008-05-21","y":1.0},{"t":"2008-05-26","y":0.9},{"t":"2008-05-31","y":0.8},
{"t":"2006-12-08","y":0.3},{"t":"2006-12-13","y":0.4},{"t":"2006-12-18","y":0.5},{"t":"2006-12-23","y":0.4},{"t":"2006-12-28","y":0.6},
{"t":"2007-01-03","y":0.5},{"t":"2007-01-08","y":0.7},{"t":"2007-01-13","y":0.6},{"t":"2007-01-18","y":0.7},{"t":"2007-01-23","y":0.6},{"t":"2007-01-28","y":0.7},
{"t":"2007-02-03","y":0.8},{"t":"2007-02-08","y":0.7},{"t":"2007-02-13","y":0.9},{"t":"2007-02-18","y":0.8},{"t":"2007-02-23","y":0.7},{"t":"2007-02-28","y":0.9},
{"t":"2007-03-03","y":0.8},{"t":"2007-03-08","y":1.0},{"t":"2007-03-13","y":0.9},{"t":"2007-03-18","y":1.0},{"t":"2007-03-23","y":0.9},{"t":"2007-03-28","y":1.0},
{"t":"2007-04-03","y":1.1},{"t":"2007-04-08","y":0.9},{"t":"2007-04-13","y":1.2},{"t":"2007-04-18","y":1.0},{"t":"2007-04-23","y":1.1},{"t":"2007-04-28","y":0.9},
{"t":"2007-05-03","y":1.0},{"t":"2007-05-08","y":1.2},{"t":"2007-05-13","y":1.0},{"t":"2007-05-18","y":1.1},{"t":"2007-05-23","y":0.9},{"t":"2007-05-28","y":1.1},
{"t":"2007-06-03","y":1.0},{"t":"2007-06-08","y":0.9},{"t":"2007-06-13","y":1.1},{"t":"2007-06-18","y":1.0},{"t":"2007-06-23","y":1.0},{"t":"2007-06-28","y":0.9},
{"t":"2007-07-03","y":1.1},{"t":"2007-07-08","y":0.9},{"t":"2007-07-13","y":1.0},{"t":"2007-07-18","y":1.2},{"t":"2007-07-23","y":1.0},{"t":"2007-07-28","y":1.1},
{"t":"2007-08-03","y":1.0},{"t":"2007-08-08","y":1.1},{"t":"2007-08-13","y":0.9},{"t":"2007-08-18","y":1.1},{"t":"2007-08-23","y":1.0},{"t":"2007-08-28","y":1.1},
{"t":"2007-09-03","y":1.1},{"t":"2007-09-08","y":0.9},{"t":"2007-09-13","y":1.1},{"t":"2007-09-18","y":1.0},{"t":"2007-09-23","y":1.1},{"t":"2007-09-28","y":0.9},
{"t":"2007-10-03","y":1.0},{"t":"2007-10-08","y":1.1},{"t":"2007-10-13","y":0.9},{"t":"2007-10-18","y":1.1},{"t":"2007-10-23","y":1.0},{"t":"2007-10-28","y":1.0},
{"t":"2007-11-03","y":1.0},{"t":"2007-11-08","y":0.9},{"t":"2007-11-13","y":1.1},{"t":"2007-11-18","y":1.0},{"t":"2007-11-23","y":1.1},{"t":"2007-11-28","y":1.0},
{"t":"2007-12-03","y":1.1},{"t":"2007-12-08","y":1.0},{"t":"2007-12-13","y":1.0},{"t":"2007-12-18","y":0.9},{"t":"2007-12-23","y":1.1},{"t":"2007-12-28","y":1.0},
{"t":"2008-01-03","y":1.1},{"t":"2008-01-08","y":0.9},{"t":"2008-01-13","y":1.1},{"t":"2008-01-18","y":1.0},{"t":"2008-01-23","y":1.1},{"t":"2008-01-28","y":1.1},
{"t":"2008-02-03","y":1.0},{"t":"2008-02-08","y":1.2},{"t":"2008-02-13","y":1.1},{"t":"2008-02-18","y":1.0},{"t":"2008-02-23","y":1.2},{"t":"2008-02-28","y":1.1},
{"t":"2008-03-03","y":1.1},{"t":"2008-03-08","y":1.2},{"t":"2008-03-13","y":1.0},{"t":"2008-03-18","y":1.2},{"t":"2008-03-23","y":1.1},{"t":"2008-03-28","y":1.3},
{"t":"2008-04-03","y":1.2},{"t":"2008-04-08","y":1.4},{"t":"2008-04-13","y":1.2},{"t":"2008-04-18","y":1.3},{"t":"2008-04-23","y":1.2},{"t":"2008-04-28","y":1.4},
{"t":"2008-05-03","y":1.3},{"t":"2008-05-08","y":1.1},{"t":"2008-05-13","y":1.2},{"t":"2008-05-18","y":1.0},{"t":"2008-05-23","y":1.1},{"t":"2008-05-28","y":0.8}],
"g":[{"t":"2006-12-07","y":3.9},{"t":"2006-12-11","y":0.5},{"t":"2006-12-16","y":0.9},{"t":"2006-12-21","y":0.6},{"t":"2006-12-26","y":0.8},
{"t":"2007-01-01","y":1.0},{"t":"2007-01-06","y":0.6},{"t":"2007-01-11","y":0.9},{"t":"2007-01-16","y":0.7},{"t":"2007-01-21","y":1.1},{"t":"2007-01-26","y":0.8},
{"t":"2007-02-01","y":0.9},{"t":"2007-02-06","y":0.6},{"t":"2007-02-11","y":1.0},{"t":"2007-02-16","y":0.4},{"t":"2007-02-21","y":-0.2},{"t":"2007-02-26","y":0.7},
{"t":"2007-03-01","y":0.5},{"t":"2007-03-06","y":0.9},{"t":"2007-03-11","y":0.6},{"t":"2007-03-16","y":1.0},{"t":"2007-03-21","y":0.7},{"t":"2007-03-26","y":0.8},
{"t":"2007-04-01","y":0.9},{"t":"2007-04-06","y":0.5},{"t":"2007-04-11","y":1.0},{"t":"2007-04-16","y":0.2},{"t":"2007-04-21","y":0.7},{"t":"2007-04-26","y":-0.1},
{"t":"2007-05-01","y":0.8},{"t":"2007-05-06","y":0.4},{"t":"2007-05-11","y":1.0},{"t":"2007-05-16","y":0.5},{"t":"2007-05-21","y":0.1},{"t":"2007-05-26","y":-0.9},
{"t":"2007-06-01","y":-0.3},{"t":"2007-06-06","y":0.2},{"t":"2007-06-11","y":-1.0},{"t":"2007-06-16","y":0.1},{"t":"2007-06-21","y":-0.2},{"t":"2007-06-26","y":0.3},
{"t":"2007-07-01","y":0.0},{"t":"2007-07-06","y":0.5},{"t":"2007-07-11","y":-0.3},{"t":"2007-07-16","y":0.1},{"t":"2007-07-21","y":-0.5},{"t":"2007-07-26","y":-0.2},
{"t":"2007-08-01","y":-1.5},{"t":"2007-08-06","y":-0.6},{"t":"2007-08-11","y":-1.1},{"t":"2007-08-16","y":-0.3},{"t":"2007-08-21","y":0.0},{"t":"2007-08-26","y":-0.5},
{"t":"2007-09-01","y":0.2},{"t":"2007-09-06","y":-0.1},{"t":"2007-09-11","y":0.6},{"t":"2007-09-16","y":-0.9},{"t":"2007-09-21","y":-1.3},{"t":"2007-09-26","y":-0.4},
{"t":"2007-10-01","y":0.3},{"t":"2007-10-06","y":0.8},{"t":"2007-10-11","y":0.4},{"t":"2007-10-16","y":0.9},{"t":"2007-10-21","y":0.5},{"t":"2007-10-26","y":0.7},
{"t":"2007-11-01","y":-0.5},{"t":"2007-11-06","y":-1.5},{"t":"2007-11-11","y":0.8},{"t":"2007-11-16","y":0.3},{"t":"2007-11-21","y":0.9},{"t":"2007-11-26","y":0.6},
{"t":"2007-12-01","y":0.8},{"t":"2007-12-06","y":0.5},{"t":"2007-12-11","y":0.9},{"t":"2007-12-16","y":0.7},{"t":"2007-12-21","y":-0.7},{"t":"2007-12-26","y":0.6},
{"t":"2008-01-01","y":0.9},{"t":"2008-01-06","y":0.6},{"t":"2008-01-11","y":1.0},{"t":"2008-01-16","y":0.7},{"t":"2008-01-21","y":0.8},{"t":"2008-01-26","y":0.5},
{"t":"2008-02-01","y":0.8},{"t":"2008-02-06","y":1.0},{"t":"2008-02-11","y":0.7},{"t":"2008-02-16","y":0.9},{"t":"2008-02-21","y":0.6},{"t":"2008-02-26","y":1.0},
{"t":"2008-03-01","y":0.9},{"t":"2008-03-06","y":0.4},{"t":"2008-03-11","y":1.1},{"t":"2008-03-16","y":-0.3},{"t":"2008-03-21","y":1.9},{"t":"2008-03-26","y":0.5},
{"t":"2008-04-01","y":0.7},{"t":"2008-04-06","y":0.2},{"t":"2008-04-11","y":0.9},{"t":"2008-04-16","y":0.4},{"t":"2008-04-21","y":1.0},{"t":"2008-04-26","y":0.3},
{"t":"2008-05-01","y":0.5},{"t":"2008-05-06","y":0.0},{"t":"2008-05-11","y":0.6},{"t":"2008-05-16","y":-1.2},{"t":"2008-05-21","y":0.2},{"t":"2008-05-26","y":-0.2},{"t":"2008-05-31","y":-0.3},
{"t":"2006-12-08","y":0.7},{"t":"2006-12-13","y":0.8},{"t":"2006-12-18","y":0.5},{"t":"2006-12-23","y":0.9},{"t":"2006-12-28","y":0.6},
{"t":"2007-01-03","y":0.8},{"t":"2007-01-08","y":0.9},{"t":"2007-01-13","y":0.6},{"t":"2007-01-18","y":1.0},{"t":"2007-01-23","y":0.7},{"t":"2007-01-28","y":0.9},
{"t":"2007-02-03","y":0.7},{"t":"2007-02-08","y":0.8},{"t":"2007-02-13","y":0.5},{"t":"2007-02-18","y":0.8},{"t":"2007-02-23","y":0.3},{"t":"2007-02-28","y":0.6},
{"t":"2007-03-03","y":0.8},{"t":"2007-03-08","y":0.6},{"t":"2007-03-13","y":0.9},{"t":"2007-03-18","y":0.7},{"t":"2007-03-23","y":0.9},{"t":"2007-03-28","y":0.6},
{"t":"2007-04-03","y":0.7},{"t":"2007-04-08","y":0.9},{"t":"2007-04-13","y":0.6},{"t":"2007-04-18","y":0.8},{"t":"2007-04-23","y":0.4},{"t":"2007-04-28","y":0.7},
{"t":"2007-05-03","y":0.6},{"t":"2007-05-08","y":0.8},{"t":"2007-05-13","y":0.5},{"t":"2007-05-18","y":0.7},{"t":"2007-05-23","y":0.3},{"t":"2007-05-28","y":0.0},
{"t":"2007-06-03","y":0.1},{"t":"2007-06-08","y":-0.1},{"t":"2007-06-13","y":0.3},{"t":"2007-06-18","y":-0.2},{"t":"2007-06-23","y":0.1},{"t":"2007-06-28","y":0.0},
{"t":"2007-07-03","y":0.2},{"t":"2007-07-08","y":-0.1},{"t":"2007-07-13","y":0.3},{"t":"2007-07-18","y":-0.4},{"t":"2007-07-23","y":0.0},{"t":"2007-07-28","y":-0.7},
{"t":"2007-08-03","y":-0.9},{"t":"2007-08-08","y":-0.3},{"t":"2007-08-13","y":-0.6},{"t":"2007-08-18","y":0.1},{"t":"2007-08-23","y":-0.2},{"t":"2007-08-28","y":0.3},
{"t":"2007-09-03","y":-0.2},{"t":"2007-09-08","y":0.3},{"t":"2007-09-13","y":-0.6},{"t":"2007-09-18","y":0.1},{"t":"2007-09-23","y":-0.4},{"t":"2007-09-28","y":0.0},
{"t":"2007-10-03","y":0.5},{"t":"2007-10-08","y":0.6},{"t":"2007-10-13","y":0.8},{"t":"2007-10-18","y":0.4},{"t":"2007-10-23","y":0.7},{"t":"2007-10-28","y":0.9},
{"t":"2007-11-03","y":0.7},{"t":"2007-11-08","y":0.5},{"t":"2007-11-13","y":0.9},{"t":"2007-11-18","y":0.6},{"t":"2007-11-23","y":0.7},{"t":"2007-11-28","y":0.8},
{"t":"2007-12-03","y":0.6},{"t":"2007-12-08","y":0.9},{"t":"2007-12-13","y":0.7},{"t":"2007-12-18","y":0.8},{"t":"2007-12-23","y":0.6},{"t":"2007-12-28","y":0.9},
{"t":"2008-01-03","y":0.7},{"t":"2008-01-08","y":0.8},{"t":"2008-01-13","y":0.6},{"t":"2008-01-18","y":0.9},{"t":"2008-01-23","y":0.7},{"t":"2008-01-28","y":0.8},
{"t":"2008-02-03","y":0.9},{"t":"2008-02-08","y":0.7},{"t":"2008-02-13","y":0.8},{"t":"2008-02-18","y":0.6},{"t":"2008-02-23","y":0.9},{"t":"2008-02-28","y":0.7},
{"t":"2008-03-03","y":0.6},{"t":"2008-03-08","y":0.8},{"t":"2008-03-13","y":0.5},{"t":"2008-03-18","y":0.7},{"t":"2008-03-23","y":0.4},{"t":"2008-03-28","y":0.6},
{"t":"2008-04-03","y":0.5},{"t":"2008-04-08","y":0.8},{"t":"2008-04-13","y":0.3},{"t":"2008-04-18","y":0.6},{"t":"2008-04-23","y":0.2},{"t":"2008-04-28","y":0.5},
{"t":"2008-05-03","y":0.3},{"t":"2008-05-08","y":0.4},{"t":"2008-05-13","y":0.1},{"t":"2008-05-18","y":0.3},{"t":"2008-05-23","y":0.0},{"t":"2008-05-28","y":-0.4}],
"h":[{"t":"2006-12-07","y":0.3},{"t":"2006-12-11","y":-0.6},{"t":"2006-12-16","y":0.8},{"t":"2006-12-21","y":0.1},{"t":"2006-12-26","y":1.0},
{"t":"2007-01-01","y":0.7},{"t":"2007-01-06","y":1.1},{"t":"2007-01-11","y":0.4},{"t":"2007-01-16","y":0.9},{"t":"2007-01-21","y":0.2},{"t":"2007-01-26","y":1.0},
{"t":"2007-02-01","y":0.6},{"t":"2007-02-06","y":0.9},{"t":"2007-02-11","y":0.1},{"t":"2007-02-16","y":0.7},{"t":"2007-02-21","y":-0.9},{"t":"2007-02-26","y":0.5},
{"t":"2007-03-01","y":0.8},{"t":"2007-03-06","y":0.2},{"t":"2007-03-11","y":0.6},{"t":"2007-03-16","y":-0.1},{"t":"2007-03-21","y":0.7},{"t":"2007-03-26","y":0.3},
{"t":"2007-04-01","y":-1.0},{"t":"2007-04-06","y":0.5},{"t":"2007-04-11","y":0.0},{"t":"2007-04-16","y":0.6},{"t":"2007-04-21","y":-0.4},{"t":"2007-04-26","y":0.9},
{"t":"2007-05-01","y":0.2},{"t":"2007-05-06","y":-0.6},{"t":"2007-05-11","y":0.3},{"t":"2007-05-16","y":-1.3},{"t":"2007-05-21","y":-0.2},{"t":"2007-05-26","y":-0.8},
{"t":"2007-06-01","y":-0.5},{"t":"2007-06-06","y":-1.2},{"t":"2007-06-11","y":-1.8},{"t":"2007-06-16","y":-1.5},{"t":"2007-06-21","y":-2.1},{"t":"2007-06-26","y":-1.9},
{"t":"2007-07-01","y":-2.2},{"t":"2007-07-06","y":-2.8},{"t":"2007-07-11","y":-1.0},{"t":"2007-07-16","y":-2.4},{"t":"2007-07-21","y":-1.8},{"t":"2007-07-26","y":-2.1},
{"t":"2007-08-01","y":-3.1},{"t":"2007-08-06","y":-1.7},{"t":"2007-08-11","y":-2.5},{"t":"2007-08-16","y":-1.2},{"t":"2007-08-21","y":-2.0},{"t":"2007-08-26","y":-1.6},
{"t":"2007-09-01","y":-2.2},{"t":"2007-09-06","y":-1.0},{"t":"2007-09-11","y":-2.0},{"t":"2007-09-16","y":-2.6},{"t":"2007-09-21","y":-1.5},{"t":"2007-09-26","y":-2.3},
{"t":"2007-10-01","y":-1.4},{"t":"2007-10-06","y":-0.8},{"t":"2007-10-11","y":-1.6},{"t":"2007-10-16","y":-0.2},{"t":"2007-10-21","y":-1.1},{"t":"2007-10-26","y":-0.5},
{"t":"2007-11-01","y":-2.3},{"t":"2007-11-06","y":0.3},{"t":"2007-11-11","y":-0.4},{"t":"2007-11-16","y":0.5},{"t":"2007-11-21","y":0.1},{"t":"2007-11-26","y":0.6},
{"t":"2007-12-01","y":0.2},{"t":"2007-12-06","y":0.5},{"t":"2007-12-11","y":-0.2},{"t":"2007-12-16","y":0.4},{"t":"2007-12-21","y":-0.9},{"t":"2007-12-26","y":0.3},
{"t":"2008-01-01","y":0.6},{"t":"2008-01-06","y":0.1},{"t":"2008-01-11","y":0.5},{"t":"2008-01-16","y":-0.3},{"t":"2008-01-21","y":0.4},{"t":"2008-01-26","y":0.7},
{"t":"2008-02-01","y":0.3},{"t":"2008-02-06","y":0.6},{"t":"2008-02-11","y":0.0},{"t":"2008-02-16","y":0.5},{"t":"2008-02-21","y":0.8},{"t":"2008-02-26","y":0.4},
{"t":"2008-03-01","y":0.7},{"t":"2008-03-06","y":0.9},{"t":"2008-03-11","y":0.4},{"t":"2008-03-16","y":1.1},{"t":"2008-03-21","y":0.2},{"t":"2008-03-26","y":0.8},
{"t":"2008-04-01","y":0.5},{"t":"2008-04-06","y":-0.3},{"t":"2008-04-11","y":0.6},{"t":"2008-04-16","y":-0.5},{"t":"2008-04-21","y":0.1},{"t":"2008-04-26","y":-0.2},
{"t":"2008-05-01","y":-0.4},{"t":"2008-05-06","y":-0.9},{"t":"2008-05-11","y":-0.2},{"t":"2008-05-16","y":-1.3},{"t":"2008-05-21","y":-1.8},{"t":"2008-05-26","y":-0.7},{"t":"2008-05-31","y":-1.2},
{"t":"2006-12-08","y":0.5},{"t":"2006-12-13","y":0.2},{"t":"2006-12-18","y":0.6},{"t":"2006-12-23","y":0.4},{"t":"2006-12-28","y":0.7},
{"t":"2007-01-03","y":0.9},{"t":"2007-01-08","y":0.5},{"t":"2007-01-13","y":0.8},{"t":"2007-01-18","y":0.6},{"t":"2007-01-23","y":0.7},{"t":"2007-01-28","y":0.5},
{"t":"2007-02-03","y":0.4},{"t":"2007-02-08","y":0.7},{"t":"2007-02-13","y":0.5},{"t":"2007-02-18","y":0.3},{"t":"2007-02-23","y":0.6},{"t":"2007-02-28","y":0.2},
{"t":"2007-03-03","y":0.5},{"t":"2007-03-08","y":0.4},{"t":"2007-03-13","y":0.1},{"t":"2007-03-18","y":0.5},{"t":"2007-03-23","y":0.2},{"t":"2007-03-28","y":0.6},
{"t":"2007-04-03","y":0.3},{"t":"2007-04-08","y":0.0},{"t":"2007-04-13","y":0.4},{"t":"2007-04-18","y":0.1},{"t":"2007-04-23","y":0.3},{"t":"2007-04-28","y":0.0},
{"t":"2007-05-03","y":-0.1},{"t":"2007-05-08","y":0.2},{"t":"2007-05-13","y":-0.4},{"t":"2007-05-18","y":0.0},{"t":"2007-05-23","y":-0.5},{"t":"2007-05-28","y":-0.3},
{"t":"2007-06-03","y":-0.9},{"t":"2007-06-08","y":-1.4},{"t":"2007-06-13","y":-1.1},{"t":"2007-06-18","y":-2.0},{"t":"2007-06-23","y":-1.7},{"t":"2007-06-28","y":-2.3},
{"t":"2007-07-03","y":-2.0},{"t":"2007-07-08","y":-2.3},{"t":"2007-07-13","y":-1.9},{"t":"2007-07-18","y":-2.1},{"t":"2007-07-23","y":-2.4},{"t":"2007-07-28","y":-2.0},
{"t":"2007-08-03","y":-2.2},{"t":"2007-08-08","y":-2.0},{"t":"2007-08-13","y":-1.8},{"t":"2007-08-18","y":-2.1},{"t":"2007-08-23","y":-1.7},{"t":"2007-08-28","y":-2.3},
{"t":"2007-09-03","y":-1.8},{"t":"2007-09-08","y":-1.6},{"t":"2007-09-13","y":-2.2},{"t":"2007-09-18","y":-1.9},{"t":"2007-09-23","y":-2.1},{"t":"2007-09-28","y":-1.7},
{"t":"2007-10-03","y":-1.8},{"t":"2007-10-08","y":-1.2},{"t":"2007-10-13","y":-1.0},{"t":"2007-10-18","y":-0.8},{"t":"2007-10-23","y":-0.6},{"t":"2007-10-28","y":-0.3},
{"t":"2007-11-03","y":0.0},{"t":"2007-11-08","y":-0.2},{"t":"2007-11-13","y":0.2},{"t":"2007-11-18","y":0.0},{"t":"2007-11-23","y":0.4},{"t":"2007-11-28","y":0.2},
{"t":"2007-12-03","y":0.4},{"t":"2007-12-08","y":0.1},{"t":"2007-12-13","y":0.5},{"t":"2007-12-18","y":0.2},{"t":"2007-12-23","y":0.3},{"t":"2007-12-28","y":0.5},
{"t":"2008-01-03","y":0.3},{"t":"2008-01-08","y":0.5},{"t":"2008-01-13","y":0.2},{"t":"2008-01-18","y":0.4},{"t":"2008-01-23","y":0.1},{"t":"2008-01-28","y":0.5},
{"t":"2008-02-03","y":0.5},{"t":"2008-02-08","y":0.3},{"t":"2008-02-13","y":0.6},{"t":"2008-02-18","y":0.4},{"t":"2008-02-23","y":0.5},{"t":"2008-02-28","y":0.6},
{"t":"2008-03-03","y":0.5},{"t":"2008-03-08","y":0.6},{"t":"2008-03-13","y":0.8},{"t":"2008-03-18","y":0.5},{"t":"2008-03-23","y":0.7},{"t":"2008-03-28","y":0.4},
{"t":"2008-04-03","y":0.2},{"t":"2008-04-08","y":0.0},{"t":"2008-04-13","y":0.3},{"t":"2008-04-18","y":-0.2},{"t":"2008-04-23","y":0.0},{"t":"2008-04-28","y":-0.4},
{"t":"2008-05-03","y":-0.6},{"t":"2008-05-08","y":-0.3},{"t":"2008-05-13","y":-0.8},{"t":"2008-05-18","y":-0.5},{"t":"2008-05-23","y":-1.0},{"t":"2008-05-28","y":-0.9}]
},
"concat":[
{"data":{"name":"a"},"title":"①：田代－新岳（基準値：2996.26m）","width":478,"height":136,"mark":"circle","encoding":{"x":{"field":"t","type":"temporal","title":null,"scale":{"type":"utc","domain":[{"year":2006,"month":12,"date":1,"utc":true},{"year":2008,"month":6,"date":1,"utc":true}]},"axis":{"tickCount":{"interval":"month","step":1},"labelExpr":"utcmonth(datum.value)%3==0?utcFormat(datum.value,'%Y/%m'):''","tickSize":{"expr":"utcmonth(datum.value)%3==0?15:8"}}},"y":{"field":"y","type":"quantitative","title":"(cm)","scale":{"domain":[-5,5],"nice":false,"zero":false},"axis":{"values":[-5,-4,-3,-2,-1,0,1,2,3,4,5],"labelExpr":"datum.value%5==0?datum.label:''","tickSize":{"expr":"datum.value%5==0?13:7"}}}}},
{"data":{"name":"e"},"title":"⑤：新岳－産)SDW（基準値：562.42m）","width":478,"height":136,"mark":"circle","encoding":{"x":{"field":"t","type":"temporal","title":null,"scale":{"type":"utc","domain":[{"year":2006,"month":12,"date":1,"utc":true},{"year":2008,"month":6,"date":1,"utc":true}]},"axis":{"tickCount":{"interval":"month","step":1},"labelExpr":"utcmonth(datum.value)%3==0?utcFormat(datum.value,'%Y/%m'):''","tickSize":{"expr":"utcmonth(datum.value)%3==0?15:8"}}},"y":{"field":"y","type":"quantitative","title":"(cm)","scale":{"domain":[-5,5],"nice":false,"zero":false},"axis":{"values":[-5,-4,-3,-2,-1,0,1,2,3,4,5],"labelExpr":"datum.value%5==0?datum.label:''","tickSize":{"expr":"datum.value%5==0?13:7"}}}}},
{"data":{"name":"b"},"title":"②：田代－七釜（基準値：3696.77m）","width":478,"height":136,"mark":"circle","encoding":{"x":{"field":"t","type":"temporal","title":null,"scale":{"type":"utc","domain":[{"year":2006,"month":12,"date":1,"utc":true},{"year":2008,"month":6,"date":1,"utc":true}]},"axis":{"tickCount":{"interval":"month","step":1},"labelExpr":"utcmonth(datum.value)%3==0?utcFormat(datum.value,'%Y/%m'):''","tickSize":{"expr":"utcmonth(datum.value)%3==0?15:8"}}},"y":{"field":"y","type":"quantitative","title":"(cm)","scale":{"domain":[-5,5],"nice":false,"zero":false},"axis":{"values":[-5,-4,-3,-2,-1,0,1,2,3,4,5],"labelExpr":"datum.value%5==0?datum.label:''","tickSize":{"expr":"datum.value%5==0?13:7"}}}}},
{"data":{"name":"f"},"title":"⑥：七釜－産)SDW（基準値：1239.10m）","width":478,"height":136,"mark":"circle","encoding":{"x":{"field":"t","type":"temporal","title":null,"scale":{"type":"utc","domain":[{"year":2006,"month":12,"date":1,"utc":true},{"year":2008,"month":6,"date":1,"utc":true}]},"axis":{"tickCount":{"interval":"month","step":1},"labelExpr":"utcmonth(datum.value)%3==0?utcFormat(datum.value,'%Y/%m'):''","tickSize":{"expr":"utcmonth(datum.value)%3==0?15:8"}}},"y":{"field":"y","type":"quantitative","title":"(cm)","scale":{"domain":[-5,5],"nice":false,"zero":false},"axis":{"values":[-5,-4,-3,-2,-1,0,1,2,3,4,5],"labelExpr":"datum.value%5==0?datum.label:''","tickSize":{"expr":"datum.value%5==0?13:7"}}}}},
{"data":{"name":"c"},"title":"③：新岳－七釜（基準値：1261.77m）","width":478,"height":136,"mark":"circle","encoding":{"x":{"field":"t","type":"temporal","title":null,"scale":{"type":"utc","domain":[{"year":2006,"month":12,"date":1,"utc":true},{"year":2008,"month":6,"date":1,"utc":true}]},"axis":{"tickCount":{"interval":"month","step":1},"labelExpr":"utcmonth(datum.value)%3==0?utcFormat(datum.value,'%Y/%m'):''","tickSize":{"expr":"utcmonth(datum.value)%3==0?15:8"}}},"y":{"field":"y","type":"quantitative","title":"(cm)","scale":{"domain":[-5,5],"nice":false,"zero":false},"axis":{"values":[-5,-4,-3,-2,-1,0,1,2,3,4,5],"labelExpr":"datum.value%5==0?datum.label:''","tickSize":{"expr":"datum.value%5==0?13:7"}}}}},
{"data":{"name":"g"},"title":"⑦：地)GSI－新岳（基準値：2181.59m）","width":478,"height":136,"mark":"circle","encoding":{"x":{"field":"t","type":"temporal","title":null,"scale":{"type":"utc","domain":[{"year":2006,"month":12,"date":1,"utc":true},{"year":2008,"month":6,"date":1,"utc":true}]},"axis":{"tickCount":{"interval":"month","step":1},"labelExpr":"utcmonth(datum.value)%3==0?utcFormat(datum.value,'%Y/%m'):''","tickSize":{"expr":"utcmonth(datum.value)%3==0?15:8"}}},"y":{"field":"y","type":"quantitative","title":"(cm)","scale":{"domain":[-5,5],"nice":false,"zero":false},"axis":{"values":[-5,-4,-3,-2,-1,0,1,2,3,4,5],"labelExpr":"datum.value%5==0?datum.label:''","tickSize":{"expr":"datum.value%5==0?13:7"}}}}},
{"data":{"name":"d"},"title":"④：田代－産)SDW（基準値：2637.44m）","width":478,"height":136,"mark":"circle","encoding":{"x":{"field":"t","type":"temporal","title":null,"scale":{"type":"utc","domain":[{"year":2006,"month":12,"date":1,"utc":true},{"year":2008,"month":6,"date":1,"utc":true}]},"axis":{"tickCount":{"interval":"month","step":1},"labelExpr":"utcmonth(datum.value)%3==0?utcFormat(datum.value,'%Y/%m'):''","tickSize":{"expr":"utcmonth(datum.value)%3==0?15:8"}}},"y":{"field":"y","type":"quantitative","title":"(cm)","scale":{"domain":[-5,5],"nice":false,"zero":false},"axis":{"values":[-5,-4,-3,-2,-1,0,1,2,3,4,5],"labelExpr":"datum.value%5==0?datum.label:''","tickSize":{"expr":"datum.value%5==0?13:7"}}}}},
{"data":{"name":"h"},"title":"⑧：地)GSI－産)SDW（基準値：2189.91m）","width":478,"height":136,"mark":"circle","encoding":{"x":{"field":"t","type":"temporal","title":null,"scale":{"type":"utc","domain":[{"year":2006,"month":12,"date":1,"utc":true},{"year":2008,"month":6,"date":1,"utc":true}]},"axis":{"tickCount":{"interval":"month","step":1},"labelExpr":"utcmonth(datum.value)%3==0?utcFormat(datum.value,'%Y/%m'):''","tickSize":{"expr":"utcmonth(datum.value)%3==0?15:8"}}},"y":{"field":"y","type":"quantitative","title":"(cm)","scale":{"domain":[-5,5],"nice":false,"zero":false},"axis":{"values":[-5,-4,-3,-2,-1,0,1,2,3,4,5],"labelExpr":"datum.value%5==0?datum.label:''","tickSize":{"expr":"datum.value%5==0?13:7"}}}}}
]
}
